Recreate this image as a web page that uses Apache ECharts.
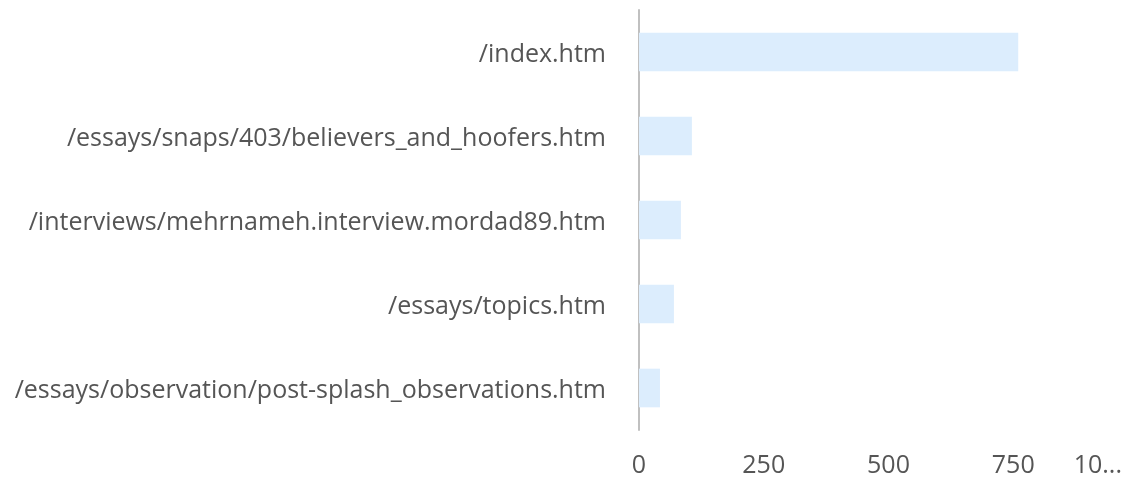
<!DOCTYPE html>
<html>
<head>
<meta charset="utf-8">
<script src="https://cdn.jsdelivr.net/npm/echarts@6/dist/echarts.min.js"></script>
<style>
  html, body { margin: 0; padding: 0; background: #fff; }
  #chart { width: 1133px; height: 477px; }
</style>
</head>
<body>
<div id="chart"></div>
<script>
const pages = [
  '/index.htm',
  '/essays/snaps/403/believers_and_hoofers.htm',
  '/interviews/mehrnameh.interview.mordad89.htm',
  '/essays/topics.htm',
  '/essays/observation/post-splash_observations.htm'
]
const hits = [760, 106, 84, 70, 42]
const xTicks = [0, 250, 500, 750, 1000]
const xTickLabels = ['0', '250', '500', '750', '10...']

const chart = echarts.init(document.getElementById('chart'))

chart.setOption({
  animation: false,
  grid: {
    left: 639,
    right: -5,
    top: 10,
    bottom: 47,
    containLabel: false,
    outerBoundsMode: 'none',
  },
  xAxis: {
    type: 'value',
    min: xTicks[0],
    max: xTicks[xTicks.length - 1],
    interval: xTicks[1] - xTicks[0],
    axisLine: { show: false },
    axisTick: { show: false },
    splitLine: { show: false },
    axisLabel: {
      fontFamily: 'Open Sans',
      fontSize: 25,
      color: '#555',
      margin: 23,
      alignMaxLabel: 'right',
      formatter(v) {
        const i = xTicks.indexOf(v)
        const label = i >= 0 ? xTickLabels[i] : String(v)
        return i === xTicks.length - 1 ? '{last|' + label + '}' : label
      },
      rich: {
        last: {
          fontFamily: 'Open Sans',
          fontSize: 25,
          color: '#555',
          padding: [0, 16, 0, 0],
        },
      },
    },
  },
  yAxis: {
    type: 'category',
    data: pages,
    inverse: true,
    axisLine: { lineStyle: { color: '#c0c0c0', width: 2 } },
    axisTick: { show: false },
    axisLabel: {
      margin: 33,
      formatter: (v) => '{p|' + v + '}',
      rich: {
        p: {
          fontFamily: 'Open Sans',
          fontSize: 25,
          color: '#555',
          padding: [6, 0, 0, 0],
        },
      },
    },
  },
  series: [
    {
      type: 'bar',
      data: hits,
      barWidth: '46%',
      itemStyle: { color: '#dcedfd' },
    },
  ],
})
</script>
</body>
</html>
